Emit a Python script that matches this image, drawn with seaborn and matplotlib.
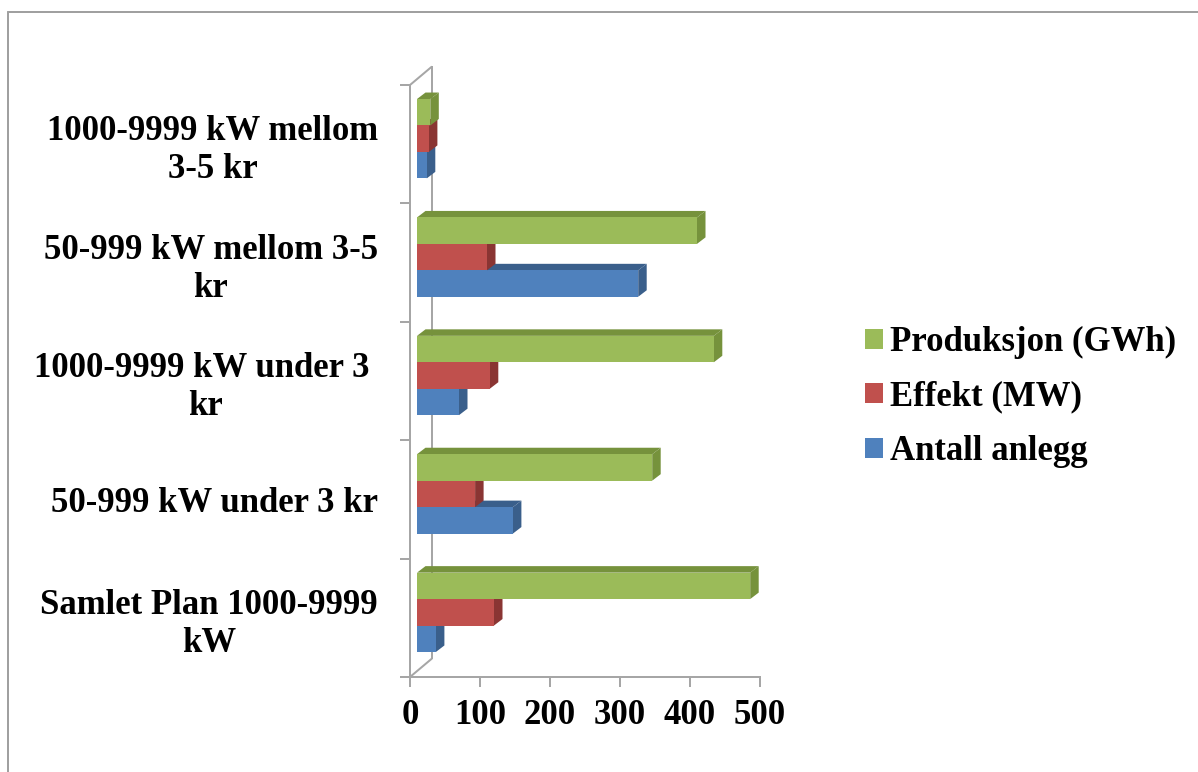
import numpy as np
import pandas as pd
import matplotlib
matplotlib.use("Agg")
import matplotlib.pyplot as plt
import matplotlib.transforms as mtransforms
from matplotlib.patches import Polygon, Patch
from matplotlib.lines import Line2D
import seaborn as sns

# --- data -----------------------------------------------------------------
categories = [
    "1000-9999 kW mellom\n3-5 kr",
    "50-999 kW mellom 3-5\nkr",
    "1000-9999 kW under 3 \nkr",
    "50-999 kW under 3 kr",
    "Samlet Plan 1000-9999\nkW",
]
series_names = ["Produksjon (GWh)", "Effekt (MW)", "Antall anlegg"]
produksjon = [19, 400, 424, 336, 476]
effekt = [17, 100, 104, 83, 110]
antall = [14, 316, 60, 137, 27]
x_ticks = [0, 100, 200, 300, 400, 500]

# --- style ----------------------------------------------------------------
front_colors = ["#9BBB59", "#C0504D", "#4F81BD"]
shade_colors = ["#76923C", "#8A3533", "#3A5F8B"]
grey = "#A6A6A6"

sns.set_style("white")
plt.rcParams["font.family"] = ["Liberation Serif", "DejaVu Serif"]
plt.rcParams["font.weight"] = "bold"
plt.rcParams["text.color"] = "black"
plt.rcParams["xtick.labelcolor"] = "black"
plt.rcParams["ytick.labelcolor"] = "black"
FS = 25

df = pd.DataFrame({
    "kategori": categories * 3,
    "serie": [s for s in series_names for _ in categories],
    "verdi": produksjon + effekt + antall,
})

W, H, DPI = 1198, 772, 100
fig = plt.figure(figsize=(W / DPI, H / DPI), dpi=DPI)
fig.patch.set_facecolor("white")

ax_l, ax_r, ax_t, ax_b = 410, 760, 85, 677
ax = fig.add_axes([ax_l / W, 1 - ax_b / H, (ax_r - ax_l) / W, (ax_b - ax_t) / H])

sns.barplot(data=df, y="kategori", x="verdi", hue="serie", order=categories,
            hue_order=series_names, palette=front_colors, saturation=1,
            width=0.67, orient="h", linewidth=0, legend=False, ax=ax)

ax.set_xlim(0, 500)
ax.set_ylim(4.5, -0.5)

# pixel sizes of one data unit on each axis
px_x = (ax_r - ax_l) / 500
px_y = (ax_b - ax_t) / 5

# bars sit a little behind the front axis plane
shift = mtransforms.ScaledTranslation(7 / DPI, 5.5 / DPI, fig.dpi_scale_trans)
bar_tr = ax.transData + shift
dx = 8.5 / px_x   # bar depth, value units
dy = 6.5 / px_y   # bar depth, category units

for k, cont in enumerate(ax.containers):
    z = 10 - 2 * k
    for rect in cont:
        x0, y0 = rect.get_x(), rect.get_y()
        w, h = rect.get_width(), rect.get_height()
        rect.set_transform(bar_tr)
        rect.set_zorder(z + 1)
        top = Polygon([(x0, y0), (x0 + w, y0), (x0 + w + dx, y0 - dy), (x0 + dx, y0 - dy)],
                      closed=True, facecolor=shade_colors[k], edgecolor="none",
                      transform=bar_tr, zorder=z)
        side = Polygon([(x0 + w, y0), (x0 + w, y0 + h), (x0 + w + dx, y0 + h - dy),
                        (x0 + w + dx, y0 - dy)],
                       closed=True, facecolor=shade_colors[k], edgecolor="none",
                       transform=bar_tr, zorder=z)
        ax.add_patch(top)
        ax.add_patch(side)

# back wall and floor edges
wx = 22 / px_x
wy = 18.5 / px_y
line_kw = dict(color=grey, lw=1.44, clip_on=False, zorder=1, solid_capstyle="butt")
ax.plot([wx, wx], [-0.5 - wy, 4.5 - wy], **line_kw)
ax.plot([0, wx], [-0.5, -0.5 - wy], **line_kw)
ax.plot([0, wx], [4.5, 4.5 - wy], **line_kw)

# axes
for side in ["top", "right"]:
    ax.spines[side].set_visible(False)
for side in ["left", "bottom"]:
    ax.spines[side].set_color(grey)
    ax.spines[side].set_linewidth(1.44)

ax.set_xlabel("")
ax.set_ylabel("")
ax.set_xticks(x_ticks)
ax.set_xticklabels([str(v) for v in x_ticks], fontsize=FS, fontweight="bold", color="black")
ax.set_yticks(range(len(categories)))
ax.set_yticklabels(categories, fontsize=FS, fontweight="bold", color="black")
for lbl in ax.get_yticklabels():
    lbl.set_multialignment("center")
ax.set_yticks(np.arange(-0.5, len(categories), 1), minor=True)

ax.tick_params(axis="x", which="major", bottom=True, length=7.2, width=1.44,
               color=grey, direction="out", pad=9)
ax.tick_params(axis="y", which="major", left=True, length=0, pad=23)
ax.tick_params(axis="y", which="minor", left=True, length=7.2, width=1.44,
               color=grey, direction="out")

# legend
handles = [Patch(facecolor=c, edgecolor="none") for c in front_colors]
leg = fig.legend(handles, series_names, loc="center left",
                 bbox_to_anchor=(865 / W, 1 - 397 / H), frameon=False,
                 borderpad=0, borderaxespad=0, handlelength=0.52, handleheight=0.52,
                 handletextpad=0.2, labelspacing=0.62,
                 prop={"size": FS, "weight": "bold"})
for t in leg.get_texts():
    t.set_color("black")

# chart frame
frame_kw = dict(transform=fig.transFigure, color="#A0A0A0", lw=1.44)
fig.add_artist(Line2D([8 / W, 1], [1 - 12 / H, 1 - 12 / H], **frame_kw))
fig.add_artist(Line2D([8 / W, 8 / W], [0, 1 - 12 / H], **frame_kw))

fig.savefig("out.png", dpi=DPI)
